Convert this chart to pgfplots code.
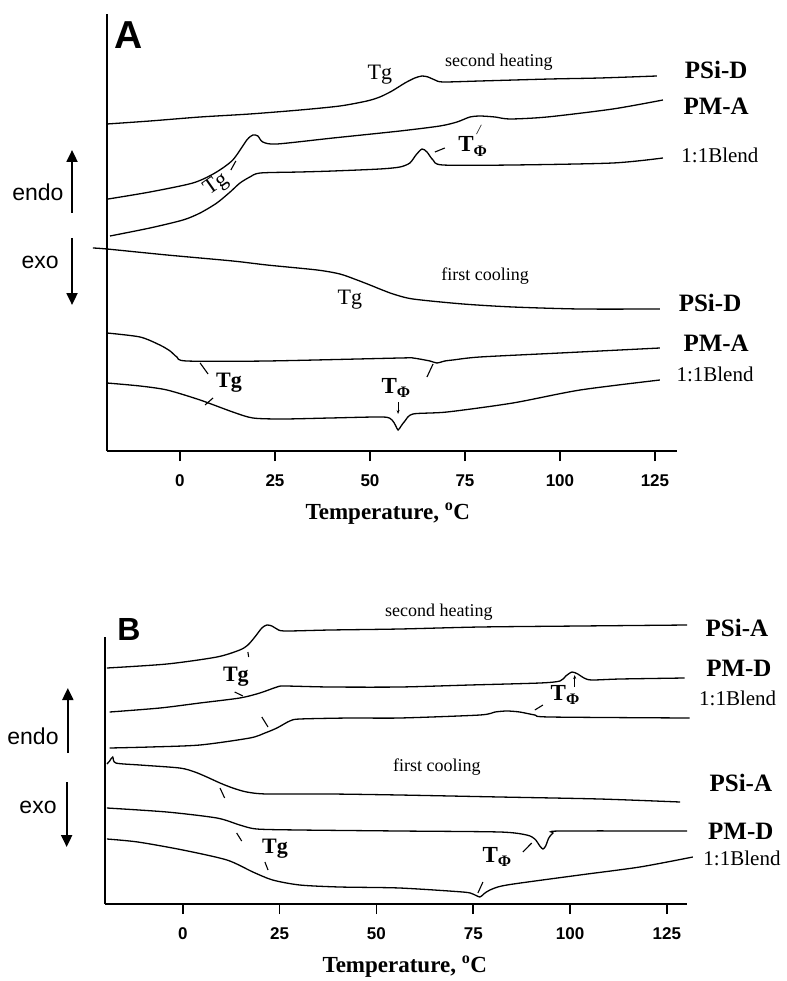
\documentclass[border=0pt]{standalone}
\usepackage{pgfplots}
\pgfplotsset{compat=1.18}
\usepackage{fontspec}
\setmainfont{Liberation Serif}
\setsansfont{Liberation Sans}
\usetikzlibrary{arrows.meta}
\newcommand{\fs}[1]{\fontsize{#1}{#1}\selectfont}
\newcommand{\TPhi}{\textbf{T}\raisebox{-0.45ex}{\fs{16}\textbf{Φ}}}
\pgfplotsset{dsc/.style={
  scale only axis, clip=false,
  axis lines=left, axis line style={-, line width=2pt},
  ytick=\empty,
  xtick={0,25,50,75,100,125},
  tick align=outside, major tick length=10pt,
  xtick style={line width=1.6pt, black},
  /pgf/number format/assume math mode=true,
  xticklabel style={font=\sffamily\bfseries\fs{17}, yshift=-10pt},
  cycle list={black,solid,line width=1.3pt,smooth,tension=0.45,mark=none\\},
}}
\tikzset{
  name/.style={font=\bfseries\fs{25}},
  blend/.style={font=\fs{21}},
  note/.style={font=\fs{18}},
  tg/.style={font=\fs{22}},
  tgb/.style={font=\bfseries\fs{22}},
  tphi/.style={font=\fs{23}, inner sep=1pt},
  lead/.style={line width=1.1pt},
}
\begin{document}
\begin{tikzpicture}
\useasboundingbox (0,0) rectangle (786pt,-981pt);
% ================= Panel A =================
\begin{axis}[dsc, at={(107pt,-451pt)}, anchor=south west,
  width=570pt, height=437pt, xmin=-19.2, xmax=130.8, ymin=0, ymax=437]
% second heating PSi-D
\addplot coordinates {(-19.2,327) (-7.9,330) (5.3,334) (18.4,337) (31.6,341) (42.1,345) (49.2,350) (52.6,354) (55.8,360) (59.2,368) (61.8,373) (63.7,375) (65.3,374) (67.1,371) (69.2,369) (78.9,370) (97.4,372) (110.5,373) (125.5,375)};
% second heating PM-A
\addplot coordinates {(-18.9,252) (-7.9,259) (3.4,268) (9.2,278) (13.9,291) (17.6,311) (19.2,316) (20.5,315) (21.8,309) (25.5,307) (40.3,313) (57.9,320) (68.4,325) (72.9,329) (76.3,334) (78.9,335) (82.9,334) (86.8,332) (96.6,334) (113.9,342) (127.1,351)};
% second heating blend
\addplot coordinates {(-18.4,215) (-7.9,223) (0.8,231) (5.3,238) (9.7,248) (13.2,259) (15.8,268) (18.4,274) (21.1,278) (31.6,279) (40.3,280) (52.6,282) (57.9,284) (60.5,288) (62.1,296) (63.7,302) (65.0,299) (66.6,291) (69.2,286) (87.6,286) (113.9,288) (127.1,293)};
% first cooling PSi-D
\addplot coordinates {(-22.9,203) (-19.2,202) (-3.4,196) (13.9,190) (22.9,186) (36.1,181) (42.1,177) (46.6,171) (50.0,166) (52.6,162) (56.1,157) (61.3,152) (74.5,147) (87.6,144) (105.3,142) (126.3,142)};
% first cooling PM-A
\addplot coordinates {(-19.2,118) (-10.5,114) (-5.3,106) (-2.6,100) (-0.8,94) (1.8,90) (22.9,90) (57.9,93) (61.3,93) (65.8,90) (67.6,88) (69.7,90) (71.8,91) (78.9,94) (100.0,98) (126.3,103)};
% first cooling blend
\addplot coordinates {(-19.2,68) (-10.5,65) (-3.4,61) (5.3,51) (13.9,39) (19.2,33) (27.1,32) (39.5,33) (53.4,34) (55.8,31) (56.8,25) (57.4,21) (58.2,25) (59.2,30) (61.3,37) (70.3,39) (87.6,48) (105.3,61) (126.3,71)};
% labels
\node[font=\sffamily\bfseries\fs{39}] at (axis cs:-13.4,416) {A};
\node[tg] at (axis cs:52.6,376) {Tg};
\node[note] at (axis cs:83.9,389) {second heating};
\node[name] at (axis cs:141.1,381) {PSi-D};
\node[name] at (axis cs:141.1,345) {PM-A};
\node[blend] at (axis cs:142.1,296) {1:1Blend};
\node[tphi] at (axis cs:77.0,310) {\TPhi\llap{\raisebox{1.6ex}{\fs{14}\textit{/}}\hspace{5pt}}};
\draw[lead] (axis cs:67.1,299) -- (axis cs:69.7,303);
\node[tg, rotate=35] at (axis cs:9.6,266) {Tg};
\draw[lead] (axis cs:13.4,281) -- (axis cs:14.7,290);
\node[tg] at (axis cs:44.7,151) {Tg};
\node[note] at (axis cs:80.3,175) {first cooling};
\node[name] at (axis cs:139.5,148) {PSi-D};
\node[name] at (axis cs:141.1,108) {PM-A};
\node[blend] at (axis cs:140.8,77) {1:1Blend};
\node[tgb] at (axis cs:12.9,68) {Tg};
\draw[lead] (axis cs:5.3,88) -- (axis cs:7.4,77);
\draw[lead] (axis cs:6.6,46) -- (axis cs:8.7,53);
\node[tphi] at (axis cs:56.8,63) {\TPhi};
\draw[lead, -{Stealth[length=4pt]}] (axis cs:57.4,49) -- (axis cs:57.4,37);
\draw[lead] (axis cs:65.0,74) -- (axis cs:66.6,87);
\node[font=\sffamily\fs{23}] at (axis cs:-37.4,259) {endo};
\draw[line width=2pt, -{Triangle[length=12pt,width=11pt]}] (axis cs:-28.4,238) -- (axis cs:-28.4,301);
\node[font=\sffamily\fs{23}] at (axis cs:-36.8,189) {exo};
\draw[line width=2pt, -{Triangle[length=12pt,width=11pt]}] (axis cs:-28.4,213) -- (axis cs:-28.4,146);
\node[font=\bfseries\fs{23}] at (axis cs:54.7,-63) {Temperature, \textsuperscript{o}C};
\end{axis}
% ================= Panel B =================
\begin{axis}[dsc, at={(105pt,-904pt)}, anchor=south west,
  width=582pt, height=267pt, xmin=-20.1, xmax=130.2, ymin=0, ymax=267]
% second heating PSi-A
\addplot coordinates {(-19.6,236) (-4.1,240) (8.8,247) (14.7,254) (16.8,259) (18.6,267) (20.4,276) (21.7,279) (23.0,278) (24.3,275) (26.3,273) (38.0,274) (56.0,275) (76.7,277) (102.5,278) (130.2,279)};
% second heating PM-D
\addplot coordinates {(-18.9,192) (-5.9,196) (4.4,201) (14.7,206) (19.9,211) (24.3,217) (26.3,218) (38.0,217) (56.0,217) (74.1,219) (92.2,221) (97.4,223) (98.9,228) (100.5,232) (102.0,230) (103.6,226) (105.6,224) (112.9,225) (129.6,226)};
% second heating blend
\addplot coordinates {(-18.9,156) (-8.5,157) (4.4,159) (17.3,166) (21.2,171) (24.3,176) (27.6,183) (30.2,185) (43.1,186) (56.0,186) (76.7,189) (80.6,192) (83.7,193) (87.0,192) (90.9,189) (94.8,187) (130.9,186)};
% first cooling PSi-A
\addplot coordinates {(-19.6,140) (-18.9,143) (-18.1,147) (-17.3,141) (-11.1,139) (-0.8,136) (3.1,132) (6.2,127) (9.6,121) (12.9,116) (16.5,112) (21.7,110) (38.0,110) (56.0,109) (81.9,107) (107.7,105) (128.4,102)};
% first cooling PM-D
\addplot coordinates {(-19.6,96) (-4.1,92) (8.8,86) (14.7,79) (19.1,75) (30.2,74) (56.0,73) (81.9,72) (88.8,69) (90.9,65) (92.2,58) (93.0,55) (93.7,58) (94.5,66) (95.6,71) (97.4,73) (130.2,73)};
% first cooling blend
\addplot coordinates {(-19.6,65) (-11.6,62) (0.0,54) (11.4,44) (18.1,32) (23.2,24) (30.2,19) (40.5,17) (56.0,16) (72.3,12) (74.9,10) (76.7,7) (77.7,10) (79.3,14) (83.7,19) (102.5,29) (118.0,37) (131.7,47)};
% labels
\node[font=\sffamily\bfseries\fs{32}] at (axis cs:-13.9,275) {B};
\node[note] at (axis cs:66.1,292) {second heating};
\node[name] at (axis cs:143.1,276) {PSi-A};
\node[name] at (axis cs:143.6,236) {PM-D};
\node[blend] at (axis cs:143.3,206) {1:1Blend};
\node[tgb] at (axis cs:13.7,227) {Tg};
\draw[lead] (axis cs:16.8,252) -- (axis cs:17.0,247);
\draw[lead] (axis cs:13.4,212) -- (axis cs:15.5,208);
\draw[lead] (axis cs:20.4,187) -- (axis cs:22.0,177);
\node[tphi] at (axis cs:98.7,209) {\TPhi};
\draw[lead, -{Stealth[length=4pt]}] (axis cs:101.2,217) -- (axis cs:101.2,229);
\draw[lead] (axis cs:90.9,194) -- (axis cs:93.0,199);
\node[note] at (axis cs:65.6,137) {first cooling};
\node[name] at (axis cs:144.1,121) {PSi-A};
\node[name] at (axis cs:144.1,73) {PM-D};
\node[blend] at (axis cs:144.4,46) {1:1Blend};
\node[tgb] at (axis cs:23.8,55) {Tg};
\draw[lead] (axis cs:9.6,116) -- (axis cs:10.8,106);
\draw[lead] (axis cs:13.9,71) -- (axis cs:15.2,63);
\draw[lead] (axis cs:21.2,42) -- (axis cs:22.0,34);
\node[tphi] at (axis cs:81.1,47) {\TPhi};
\draw[lead] (axis cs:87.8,52) -- (axis cs:90.1,61);
\draw[lead] (axis cs:76.2,11) -- (axis cs:77.5,22);
\node[font=\sffamily\fs{23}] at (axis cs:-38.7,168) {endo};
\draw[line width=2pt, -{Triangle[length=12pt,width=11pt]}] (axis cs:-29.7,151) -- (axis cs:-29.7,216);
\node[font=\sffamily\fs{23}] at (axis cs:-37.4,97) {exo};
\draw[line width=2pt, -{Triangle[length=12pt,width=11pt]}] (axis cs:-30.0,122) -- (axis cs:-30.0,57);
\node[font=\bfseries\fs{23}] at (axis cs:57.3,-63) {Temperature, \textsuperscript{o}C};
\end{axis}
\end{tikzpicture}
\end{document}
